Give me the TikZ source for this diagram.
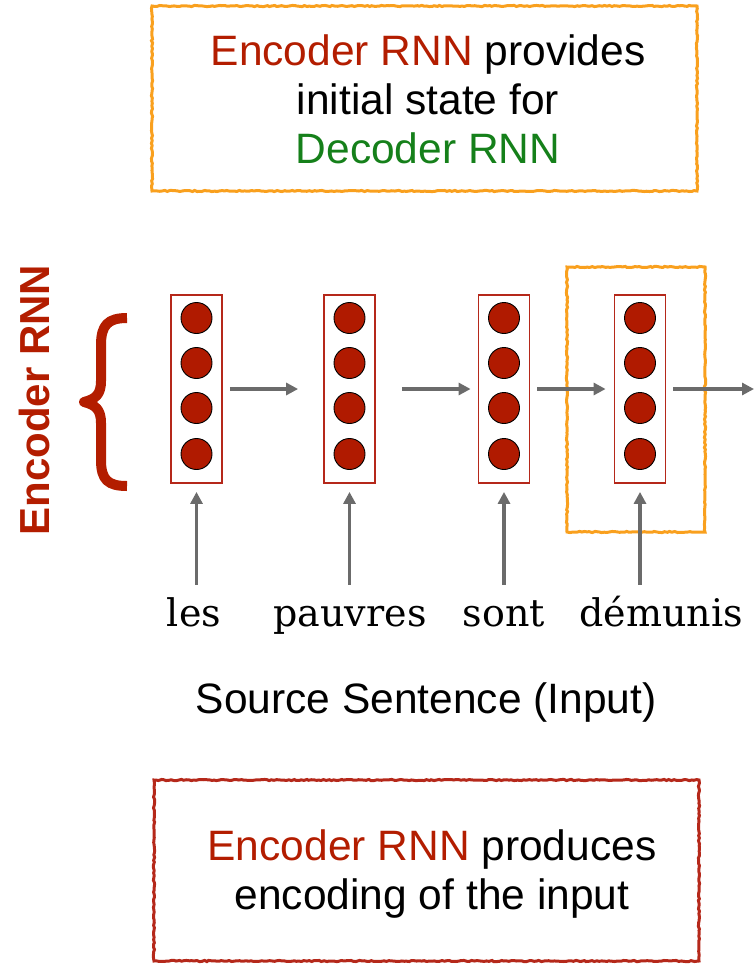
\documentclass[tikz,border=0pt]{standalone}
\usepackage{fontspec}
\setmainfont{Liberation Sans}
\newfontfamily\wordfont{DejaVu Serif}
\usetikzlibrary{arrows.meta,decorations.pathmorphing}

\definecolor{encred}{HTML}{B31D00}
\definecolor{decgreen}{HTML}{15801A}
\definecolor{hiorange}{HTML}{F9A01E}
\definecolor{boxred}{HTML}{B5281A}
\definecolor{cellred}{HTML}{B01A00}
\definecolor{arrowgray}{HTML}{6B6B6B}

\tikzset{
  roughbox/.style={line width=3pt, decorate,
    decoration={random steps, segment length=2.5pt, amplitude=0.6pt}},
  column/.style={draw=boxred, line width=1.8pt, minimum width=51pt,
    minimum height=188pt, inner sep=0pt},
  unit/.style={circle, fill=cellred, draw=black, line width=0.9pt,
    minimum size=31pt, inner sep=0pt},
  flow/.style={draw=arrowgray, line width=3.2pt,
    -{Triangle[length=12pt,width=12pt]}},
  word/.style={font=\wordfont\fontsize{38}{40}\selectfont, inner sep=0pt,
    text height=30pt, text depth=9pt, anchor=base},
  caption/.style={font=\fontsize{42.5}{49}\selectfont, align=center, inner sep=0pt},
}

\begin{document}
\begin{tikzpicture}[x=1pt,y=-1pt]
  \useasboundingbox (0,0) rectangle (754,964);

  % top note
  \draw[roughbox, hiorange] (152,6) rectangle (697,191);
  \node[caption] (topnote) at (428,99)
    {\textcolor{encred}{Encoder RNN} provides\\initial state for\\\textcolor{decgreen}{Decoder RNN}};

  % side label and brace
  \node[font=\bfseries\fontsize{42}{44}\selectfont, text=encred, rotate=90,
        inner sep=0pt] (enclabel) at (34,400) {Encoder RNN};
  \draw[encred, line width=10pt, line cap=butt, line join=round]
    (127,318) .. controls (108,318) and (101,325) .. (101,345)
    -- (101,381) .. controls (101,394) and (96,399) .. (84,402)
    .. controls (96,405) and (101,410) .. (101,423)
    -- (101,460) .. controls (101,480) and (108,486) .. (127,486);

  % encoder columns with their hidden units
  \foreach \i/\x in {1/196.5, 2/349.5, 3/504, 4/640} {
    \node[column] (c\i) at (\x,389) {};
    \foreach \j/\y in {1/318, 2/363, 3/408, 4/454}
      \node[unit] (u\i\j) at (\x,\y) {};
  }

  % highlight of the final encoder step
  \draw[roughbox, hiorange] (567,267) rectangle (705,532);

  % recurrent connections
  \coordinate (next) at (754,389);
  \draw[flow, shorten <=7pt, shorten >=25pt] (c1.east) -- (c2.west);
  \draw[flow, shorten <=26pt, shorten >=7pt] (c2.east) -- (c3.west);
  \draw[flow, shorten <=7pt, shorten >=8pt] (c3.east) -- (c4.west);
  \draw[flow, shorten <=7pt] (c4.east) -- (next);

  % source words
  \node[word] (w1) at (194,626) {les};
  \node[word] (w2) at (350,626) {pauvres};
  \node[word] (w3) at (504,626) {sont};
  \node[word] (w4) at (661,626) {démunis};

  \foreach \i in {1,2,3,4}
    \draw[flow, shorten <=11pt, shorten >=8pt] (w\i.north -| c\i.south) -- (c\i.south);

  \node[caption] (source) at (426,703) {Source Sentence (Input)};

  % bottom note
  \draw[roughbox, boxred] (154,780) rectangle (699,961);
  \node[caption] (bottomnote) at (432,874)
    {\textcolor{encred}{Encoder RNN} produces\\encoding of the input};
\end{tikzpicture}
\end{document}
